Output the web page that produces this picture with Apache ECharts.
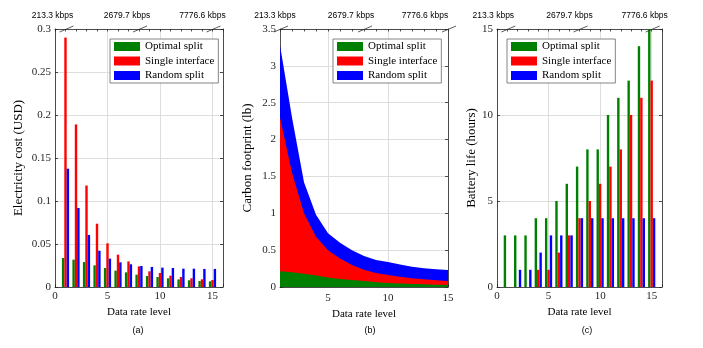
<!DOCTYPE html>
<html>
<head>
<meta charset="utf-8">
<script src="https://cdn.jsdelivr.net/npm/echarts@6/dist/echarts.min.js"></script>
<style>
html, body { margin: 0; padding: 0; background: #fff; }
#chart { width: 703px; height: 348px; }
</style>
</head>
<body>
<div id="chart"></div>
<script>
// data rate levels and the kbps marks on the top axis
var levels = [1, 2, 3, 4, 5, 6, 7, 8, 9, 10, 11, 12, 13, 14, 15];
var rateLevels = [1, 8, 15];
var rateLabels = ['213.3 kbps', '2679.7 kbps', '7776.6 kbps'];
var seriesNames = ['Optimal split', 'Single interface', 'Random split'];

// (a) electricity cost (USD)
var costOptimal = [0.0337, 0.0318, 0.029, 0.0252, 0.0221, 0.019, 0.017, 0.0143, 0.0128, 0.0116, 0.0101, 0.0088, 0.0078, 0.007, 0.0066];
var costSingle = [0.290, 0.189, 0.118, 0.0736, 0.0508, 0.0376, 0.0298, 0.024, 0.0182, 0.0163, 0.0132, 0.0116, 0.0101, 0.0089, 0.0081];
var costRandom = [0.1376, 0.0919, 0.0605, 0.0422, 0.033, 0.0287, 0.0264, 0.0244, 0.0233, 0.0225, 0.0221, 0.0213, 0.0213, 0.021, 0.021];

// (b) carbon footprint (lb), stacked in this order
var carbonOptimal = [0.215, 0.2, 0.18, 0.155, 0.13, 0.11, 0.095, 0.08, 0.065, 0.055, 0.047, 0.041, 0.036, 0.032, 0.028];
var carbonSingle = [2.085, 1.35, 0.82, 0.525, 0.37, 0.275, 0.205, 0.155, 0.125, 0.108, 0.091, 0.077, 0.069, 0.061, 0.055];
var carbonRandom = [0.98, 0.75, 0.42, 0.30, 0.23, 0.215, 0.2, 0.185, 0.175, 0.177, 0.167, 0.157, 0.15, 0.147, 0.147];

// (c) battery life (hours)
var batteryOptimal = [3, 3, 3, 4, 4, 5, 6, 7, 8, 8, 10, 11, 12, 14, 15];
var batterySingle = [0, 0, 0, 1, 1, 2, 3, 4, 5, 6, 7, 8, 10, 11, 12];
var batteryRandom = [0, 1, 1, 2, 3, 3, 3, 4, 4, 4, 4, 4, 4, 4, 4];

var colors = ['#008000', '#ff0000', '#0000ff'];
var serif = 'Liberation Serif';
var sans = 'Liberation Sans';
var axisColor = '#262626';
var gridColor = '#dedede';

var chart = echarts.init(document.getElementById('chart'), null, { renderer: 'canvas' });

function pairs(vals) {
    return levels.map(function (l, i) { return [l, vals[i]]; });
}

// running totals for the stacked areas
function addUp(a, b) {
    return a.map(function (v, i) { return +(v + b[i]).toFixed(4); });
}
var carbonTop1 = carbonOptimal;
var carbonTop2 = addUp(carbonTop1, carbonSingle);
var carbonTop3 = addUp(carbonTop2, carbonRandom);

function bottomAxis(gi, min, max, extra) {
    var ax = {
        gridIndex: gi, type: 'value', position: 'bottom', min: min, max: max,
        name: 'Data rate level', nameLocation: 'middle', nameGap: 19,
        nameTextStyle: { fontFamily: serif, fontSize: 11, color: '#000' },
        axisLine: { onZero: false, lineStyle: { color: axisColor, width: 0.8 } },
        axisTick: { inside: true, length: 3, lineStyle: { color: axisColor, width: 0.8 } },
        splitLine: { show: true, lineStyle: { color: gridColor, width: 1 } },
        axisLabel: {
            margin: 4, fontFamily: serif, fontSize: 11, color: '#262626',
            formatter: function (v) { return v % 5 === 0 ? String(v) : ''; }
        }
    };
    return Object.assign(ax, extra);
}

function topAxis(gi, min, max, pads) {
    var rich = {};
    pads.forEach(function (p, i) {
        rich['r' + i] = { fontFamily: sans, fontSize: 8.5, color: '#000', padding: [0, p, 0, 0] };
    });
    return {
        gridIndex: gi, type: 'value', position: 'top', min: min, max: max, interval: 1,
        axisLine: { onZero: false, lineStyle: { color: axisColor, width: 0.8 } },
        axisTick: { inside: true, length: 2.5, lineStyle: { color: axisColor, width: 0.8 } },
        splitLine: { show: false },
        axisLabel: {
            margin: 9, showMinLabel: true, showMaxLabel: true,
            formatter: function (v) {
                var i = rateLevels.indexOf(v);
                return i < 0 ? '' : '{r' + i + '|' + rateLabels[i] + '}';
            },
            rich: rich
        }
    };
}

function leftAxis(gi, max, interval, name, gap) {
    return {
        gridIndex: gi, type: 'value', position: 'left', min: 0, max: max, interval: interval,
        name: name, nameLocation: 'middle', nameGap: gap,
        nameTextStyle: { fontFamily: serif, fontSize: 13, color: '#000' },
        axisLine: { show: true, onZero: false, lineStyle: { color: axisColor, width: 0.8 } },
        axisTick: { show: true, inside: true, length: 3, lineStyle: { color: axisColor, width: 0.8 } },
        splitLine: { show: true, lineStyle: { color: gridColor, width: 1 } },
        axisLabel: { margin: 4, fontFamily: serif, fontSize: 11, color: '#262626' }
    };
}

function rightAxis(gi, max, interval) {
    return {
        gridIndex: gi, type: 'value', position: 'right', min: 0, max: max, interval: interval,
        axisLine: { show: true, onZero: false, lineStyle: { color: axisColor, width: 0.8 } },
        axisTick: { show: true, inside: true, length: 3, lineStyle: { color: axisColor, width: 0.8 } },
        splitLine: { show: false },
        axisLabel: { show: false }
    };
}

function legendAt(left) {
    return {
        left: left, top: 39, orient: 'vertical', icon: 'rect',
        itemWidth: 26, itemHeight: 9, itemGap: 3.5, itemTextGap: 3,
        padding: [2, 4, 2, 4], borderColor: '#666', borderWidth: 0.8,
        backgroundColor: '#fff', selectedMode: false,
        textStyle: { fontFamily: serif, fontSize: 11, color: '#000' },
        data: seriesNames
    };
}

function barSeries(xi, yi, vals, k) {
    return {
        type: 'bar', name: seriesNames[k], xAxisIndex: xi, yAxisIndex: yi,
        data: pairs(vals), barWidth: 2.4, barGap: '0%',
        itemStyle: { color: colors[k] }, silent: true
    };
}

// each band is filled down to zero; later ones are drawn over earlier ones
function areaSeries(vals, k) {
    return {
        type: 'line', name: seriesNames[k], xAxisIndex: 2, yAxisIndex: 2,
        data: pairs(vals), showSymbol: false, symbol: 'none',
        lineStyle: { width: 0 }, areaStyle: { color: colors[k], opacity: 1, origin: 'start' },
        itemStyle: { color: colors[k] }, silent: true
    };
}

// little slash marks where the kbps labels sit on the top edge
function slashSeries(xi, yi, yMax) {
    return {
        type: 'custom', xAxisIndex: xi, yAxisIndex: yi, silent: true, clip: false, z: 5,
        data: rateLevels.map(function (l) { return [l, yMax]; }),
        renderItem: function (params, api) {
            var p = api.coord([api.value(0), api.value(1)]);
            return {
                type: 'line',
                shape: { x1: p[0] - 6, y1: p[1] + 3, x2: p[0] + 8, y2: p[1] - 3 },
                style: { stroke: '#333', lineWidth: 0.8 }
            };
        }
    };
}

var option = {
    animation: false,
    backgroundColor: '#fff',
    grid: [
        { left: 55, top: 29, width: 168, height: 258 },
        { left: 280, top: 29, width: 168, height: 258 },
        { left: 497, top: 29, width: 165, height: 258 }
    ],
    xAxis: [
        bottomAxis(0, 0, 16, { interval: 5 }),
        topAxis(0, 0, 16, [26, 24, 20]),
        bottomAxis(1, 1, 15, {
            axisLabel: { margin: 6, fontFamily: serif, fontSize: 11, color: '#262626', customValues: [5, 10, 15] },
            axisTick: { inside: true, length: 3, customValues: [5, 10, 15], lineStyle: { color: axisColor, width: 0.8 } }
        }),
        topAxis(1, 1, 15, [10, 26, 46]),
        bottomAxis(2, 0, 16, { interval: 5 }),
        topAxis(2, 0, 16, [28, 20, 14])
    ],
    yAxis: [
        leftAxis(0, 0.3, 0.05, 'Electricity cost (USD)', 30),
        rightAxis(0, 0.3, 0.05),
        leftAxis(1, 3.5, 0.5, 'Carbon footprint (lb)', 26),
        rightAxis(1, 3.5, 0.5),
        leftAxis(2, 15, 5, 'Battery life (hours)', 14),
        rightAxis(2, 15, 5)
    ],
    legend: [legendAt(110), legendAt(333), legendAt(507)],
    graphic: [
        { type: 'text', x: 138, y: 331, style: { text: '(a)', font: '9px "Liberation Sans"', fill: '#000', textAlign: 'center', textVerticalAlign: 'middle' } },
        { type: 'text', x: 370, y: 331, style: { text: '(b)', font: '9px "Liberation Sans"', fill: '#000', textAlign: 'center', textVerticalAlign: 'middle' } },
        { type: 'text', x: 587, y: 331, style: { text: '(c)', font: '9px "Liberation Sans"', fill: '#000', textAlign: 'center', textVerticalAlign: 'middle' } }
    ],
    series: [
        barSeries(0, 0, costOptimal, 0),
        barSeries(0, 0, costSingle, 1),
        barSeries(0, 0, costRandom, 2),
        slashSeries(1, 0, 0.3),
        areaSeries(carbonTop3, 2),
        areaSeries(carbonTop2, 1),
        areaSeries(carbonTop1, 0),
        slashSeries(3, 2, 3.5),
        barSeries(4, 4, batteryOptimal, 0),
        barSeries(4, 4, batterySingle, 1),
        barSeries(4, 4, batteryRandom, 2),
        slashSeries(5, 4, 15)
    ]
};

chart.setOption(option);
window.addEventListener('resize', function () { chart.resize(); });
</script>
</body>
</html>
